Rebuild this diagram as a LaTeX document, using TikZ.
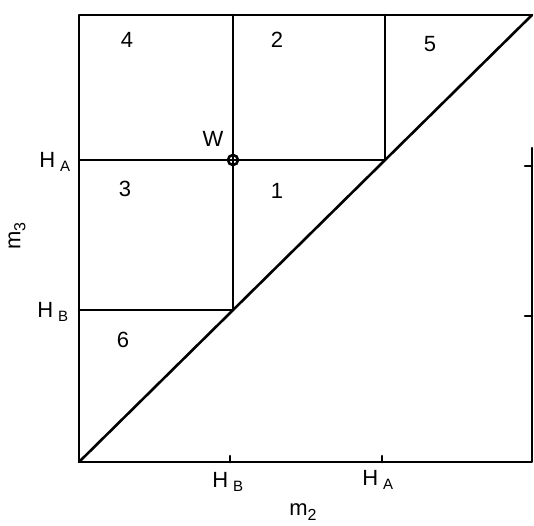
\documentclass[tikz,border=0pt]{standalone}
\usepackage{fontspec}
\setmainfont{Liberation Sans}
\newcommand{\Hsub}[1]{H\hspace{2.4pt}\raisebox{-2.4pt}{\fontsize{7.5}{8}\selectfont #1}}
\begin{document}
\begin{tikzpicture}[x=0.5pt,y=-0.5pt,
  ln/.style={line width=1.3pt, line cap=round, line join=round},
  lab/.style={font=\fontsize{11}{13}\selectfont, inner sep=0pt},
  axlab/.style={font=\fontsize{11}{13}\selectfont, inner sep=0pt}]
\useasboundingbox (0,0) rectangle (534,525);
% frame corners
\coordinate (BL) at (79,462);
\coordinate (TL) at (79,15);
\coordinate (TR) at (532,15);
\coordinate (BR) at (532,462);
\coordinate (RT) at (532,148);
% grid points
\coordinate (xB) at (233,15);
\coordinate (xA) at (385,15);
\coordinate (PB) at (233,310);
\coordinate (PA) at (385,160);
\coordinate (LA) at (79,160);
\coordinate (LB) at (79,310);
% frame and diagonal
\draw[ln] (RT) -- (BR) -- (BL) -- (TL) -- (TR);
\draw[ln] (BL) -- (TR);
% division lines
\draw[ln] (xB) -- (PB);
\draw[ln] (xA) -- (PA);
\draw[ln] (LA) -- (PA);
\draw[ln] (LB) -- (PB);
% ticks
\coordinate (tb1) at (230,462); \coordinate (tb1e) at (230,456);
\coordinate (tb2) at (382,462); \coordinate (tb2e) at (382,456);
\coordinate (tr1) at (532,166); \coordinate (tr1e) at (525,166);
\coordinate (tr2) at (532,316); \coordinate (tr2e) at (525,316);
\draw[ln] (tb1) -- (tb1e);
\draw[ln] (tb2) -- (tb2e);
\draw[ln] (tr1) -- (tr1e);
\draw[ln] (tr2) -- (tr2e);
% point W
\node[circle, draw, line width=1.3pt, minimum size=5pt, inner sep=0pt] (Wpt) at (233,160) {};
\draw[line width=0.9pt] (Wpt.west) -- (Wpt.east);
\draw[line width=0.9pt] (Wpt.north) -- (Wpt.south);
% region labels
\node[lab] (r4) at (127,40) {4};
\node[lab] (r2) at (277,40) {2};
\node[lab] (r5) at (430,44) {5};
\node[lab] (r3) at (125,189) {3};
\node[lab] (r1) at (277,191) {1};
\node[lab] (r6) at (123,340) {6};
\node[lab] (Wl) at (213,139) {W};
% axis value labels
\node[lab, anchor=base west] (HAl) at (39,167) {\Hsub{A}};
\node[lab, anchor=base west] (HBl) at (37,317) {\Hsub{B}};
\node[lab, anchor=base west] (HBb) at (212,487) {\Hsub{B}};
\node[lab, anchor=base west] (HAb) at (362,485) {\Hsub{A}};
% axis names
\node[axlab, anchor=base west] (m2) at (289,515) {m\raisebox{-2.5pt}{\fontsize{8}{9}\selectfont 2}};
\node[axlab, rotate=90] (m3) at (17,236) {m\raisebox{-2.5pt}{\fontsize{8}{9}\selectfont 3}};
\end{tikzpicture}
\end{document}
